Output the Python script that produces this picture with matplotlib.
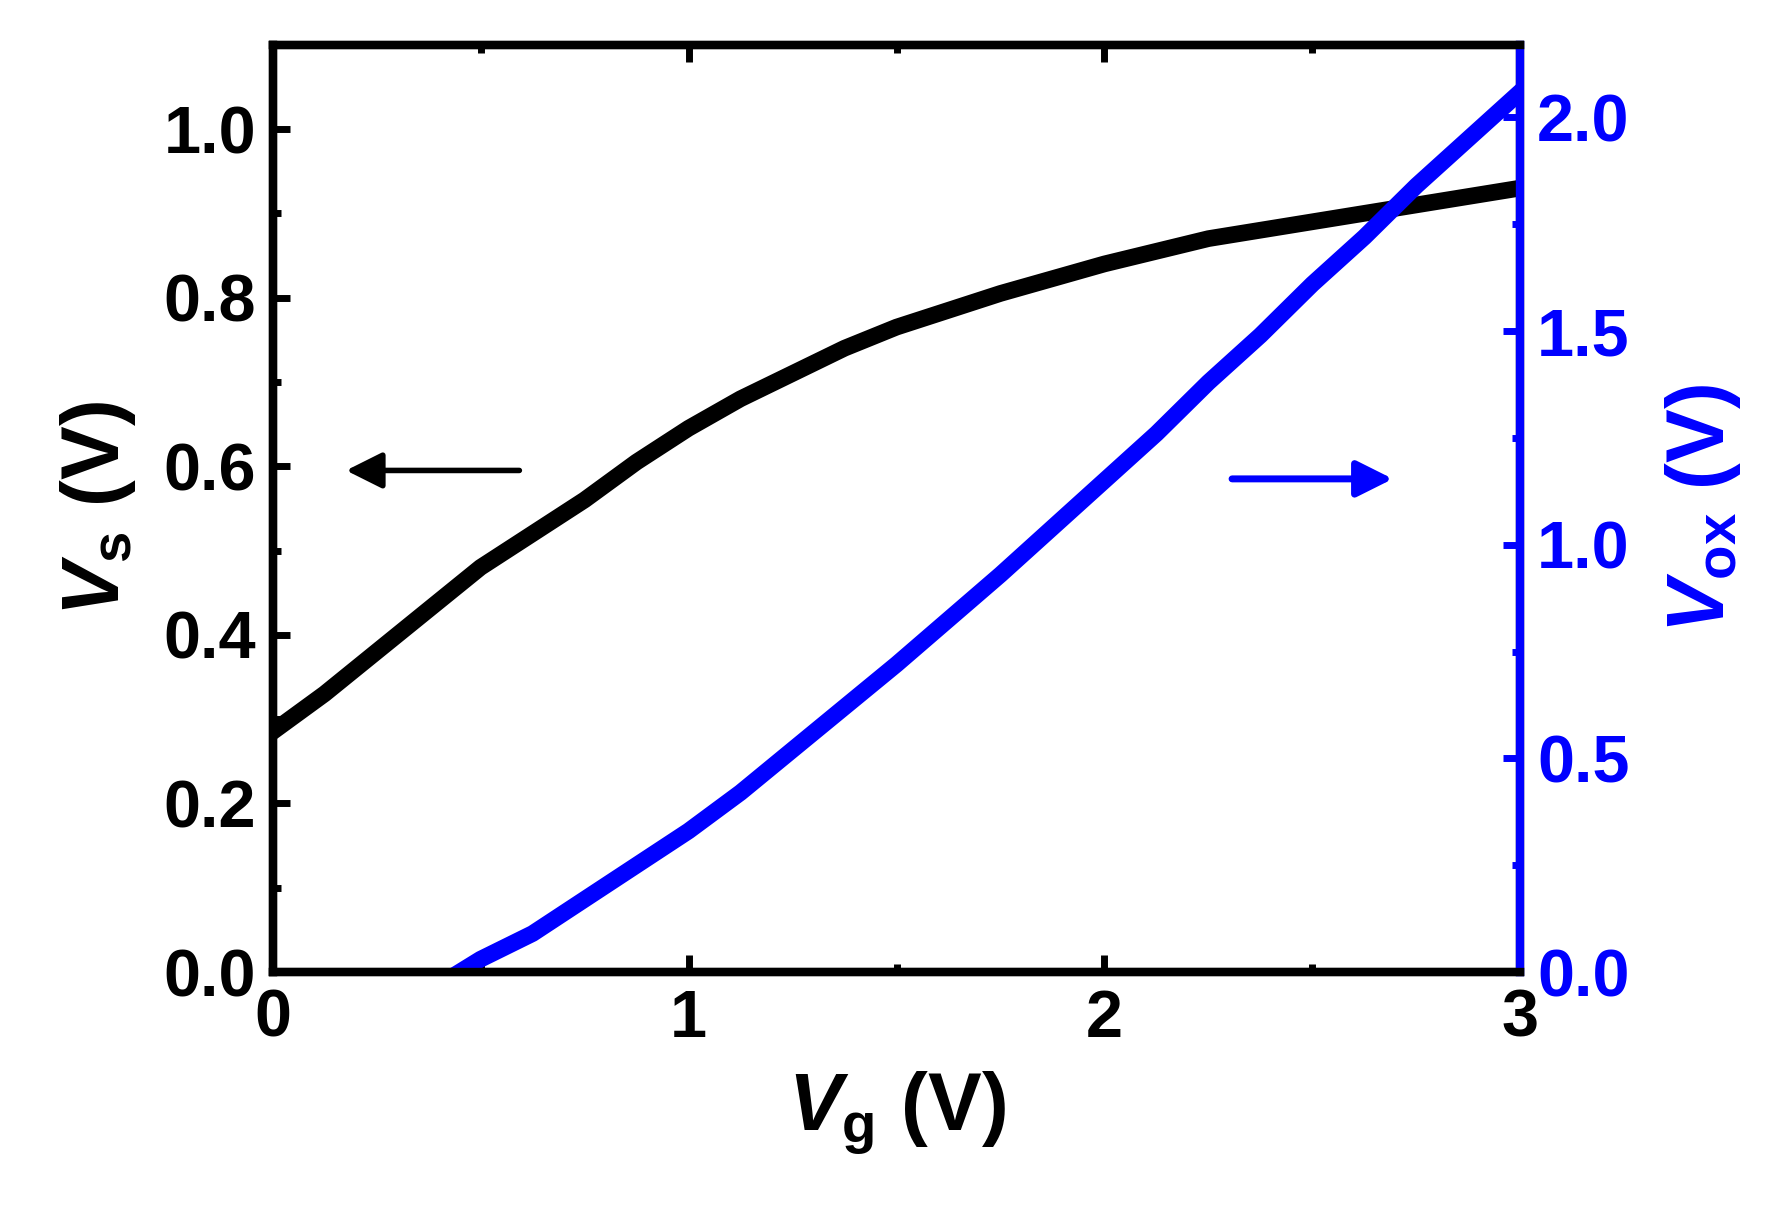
import matplotlib
matplotlib.use("Agg")
import matplotlib.pyplot as plt
from matplotlib.ticker import MultipleLocator, FormatStrFormatter

plt.rcParams["font.family"] = ["Liberation Sans", "DejaVu Sans"]
plt.rcParams["font.weight"] = "bold"
plt.rcParams["mathtext.fontset"] = "custom"
plt.rcParams["mathtext.it"] = "Liberation Sans:bold:italic"
plt.rcParams["mathtext.rm"] = "Liberation Sans:bold"

vg_s = [0, 0.125, 0.25, 0.375, 0.5, 0.625, 0.75, 0.875, 1.0, 1.125, 1.25, 1.375,
        1.5, 1.75, 2.0, 2.25, 2.5, 2.75, 3.0]
vs = [0.285, 0.33, 0.38, 0.43, 0.48, 0.52, 0.56, 0.605, 0.645, 0.68, 0.71, 0.74,
      0.765, 0.805, 0.84, 0.87, 0.89, 0.91, 0.93]
vg_ox = [0.45, 0.5, 0.625, 0.75, 0.875, 1.0, 1.125, 1.25, 1.375, 1.5, 1.625, 1.75,
         1.875, 2.0, 2.125, 2.25, 2.375, 2.5, 2.625, 2.75, 2.875, 3.0]
vox = [0.0, 0.03, 0.09, 0.17, 0.25, 0.33, 0.42, 0.52, 0.62, 0.72, 0.825, 0.93,
       1.04, 1.15, 1.26, 1.38, 1.49, 1.61, 1.72, 1.84, 1.95, 2.06]

blue = "#0000ff"
fig = plt.figure(figsize=(17.7, 12.09), dpi=100)
ax = fig.add_axes([0.154, 0.196, 0.705, 0.767])
ax2 = ax.twinx()

ax.plot(vg_s, vs, color="black", lw=12)
ax2.plot(vg_ox, vox, color=blue, lw=12)

ax.set_xlim(0, 3)
ax.set_ylim(0, 1.1)
ax2.set_ylim(0, 2.17)
ax.xaxis.set_major_locator(MultipleLocator(1))
ax.xaxis.set_minor_locator(MultipleLocator(0.5))
ax.yaxis.set_major_locator(MultipleLocator(0.2))
ax.yaxis.set_minor_locator(MultipleLocator(0.1))
ax2.yaxis.set_major_locator(MultipleLocator(0.5))
ax2.yaxis.set_minor_locator(MultipleLocator(0.25))
ax.yaxis.set_major_formatter(FormatStrFormatter("%.1f"))
ax2.yaxis.set_major_formatter(FormatStrFormatter("%.1f"))

for a in (ax, ax2):
    for s in a.spines.values():
        s.set_linewidth(6)
ax2.spines["right"].set_color(blue)
ax.tick_params(which="both", direction="in", width=5, labelsize=48, pad=12)
ax.tick_params(which="major", length=12)
ax.tick_params(which="minor", length=6)
ax.tick_params(axis="x", top=True, which="both")
ax2.tick_params(which="both", direction="in", width=5, labelsize=48, colors=blue, pad=12)
ax2.tick_params(which="major", length=12)
ax2.tick_params(which="minor", length=6)

ax.set_xlabel(r"$V_{\rm g}$ (V)", fontsize=58, fontweight="bold", labelpad=14)
ax.set_ylabel(r"$V_{\rm s}$ (V)", fontsize=58, fontweight="bold", labelpad=18)
ax2.set_ylabel(r"$V_{\rm ox}$ (V)", fontsize=58, fontweight="bold", color=blue, labelpad=24)

ax.annotate("", xy=(0.17, 0.595), xytext=(0.6, 0.595),
            arrowprops=dict(arrowstyle="-|>", lw=4, color="black", mutation_scale=55))
ax.annotate("", xy=(2.7, 0.585), xytext=(2.3, 0.585),
            arrowprops=dict(arrowstyle="-|>", lw=5, color=blue, mutation_scale=55))

fig.savefig("out.png", dpi=100)
